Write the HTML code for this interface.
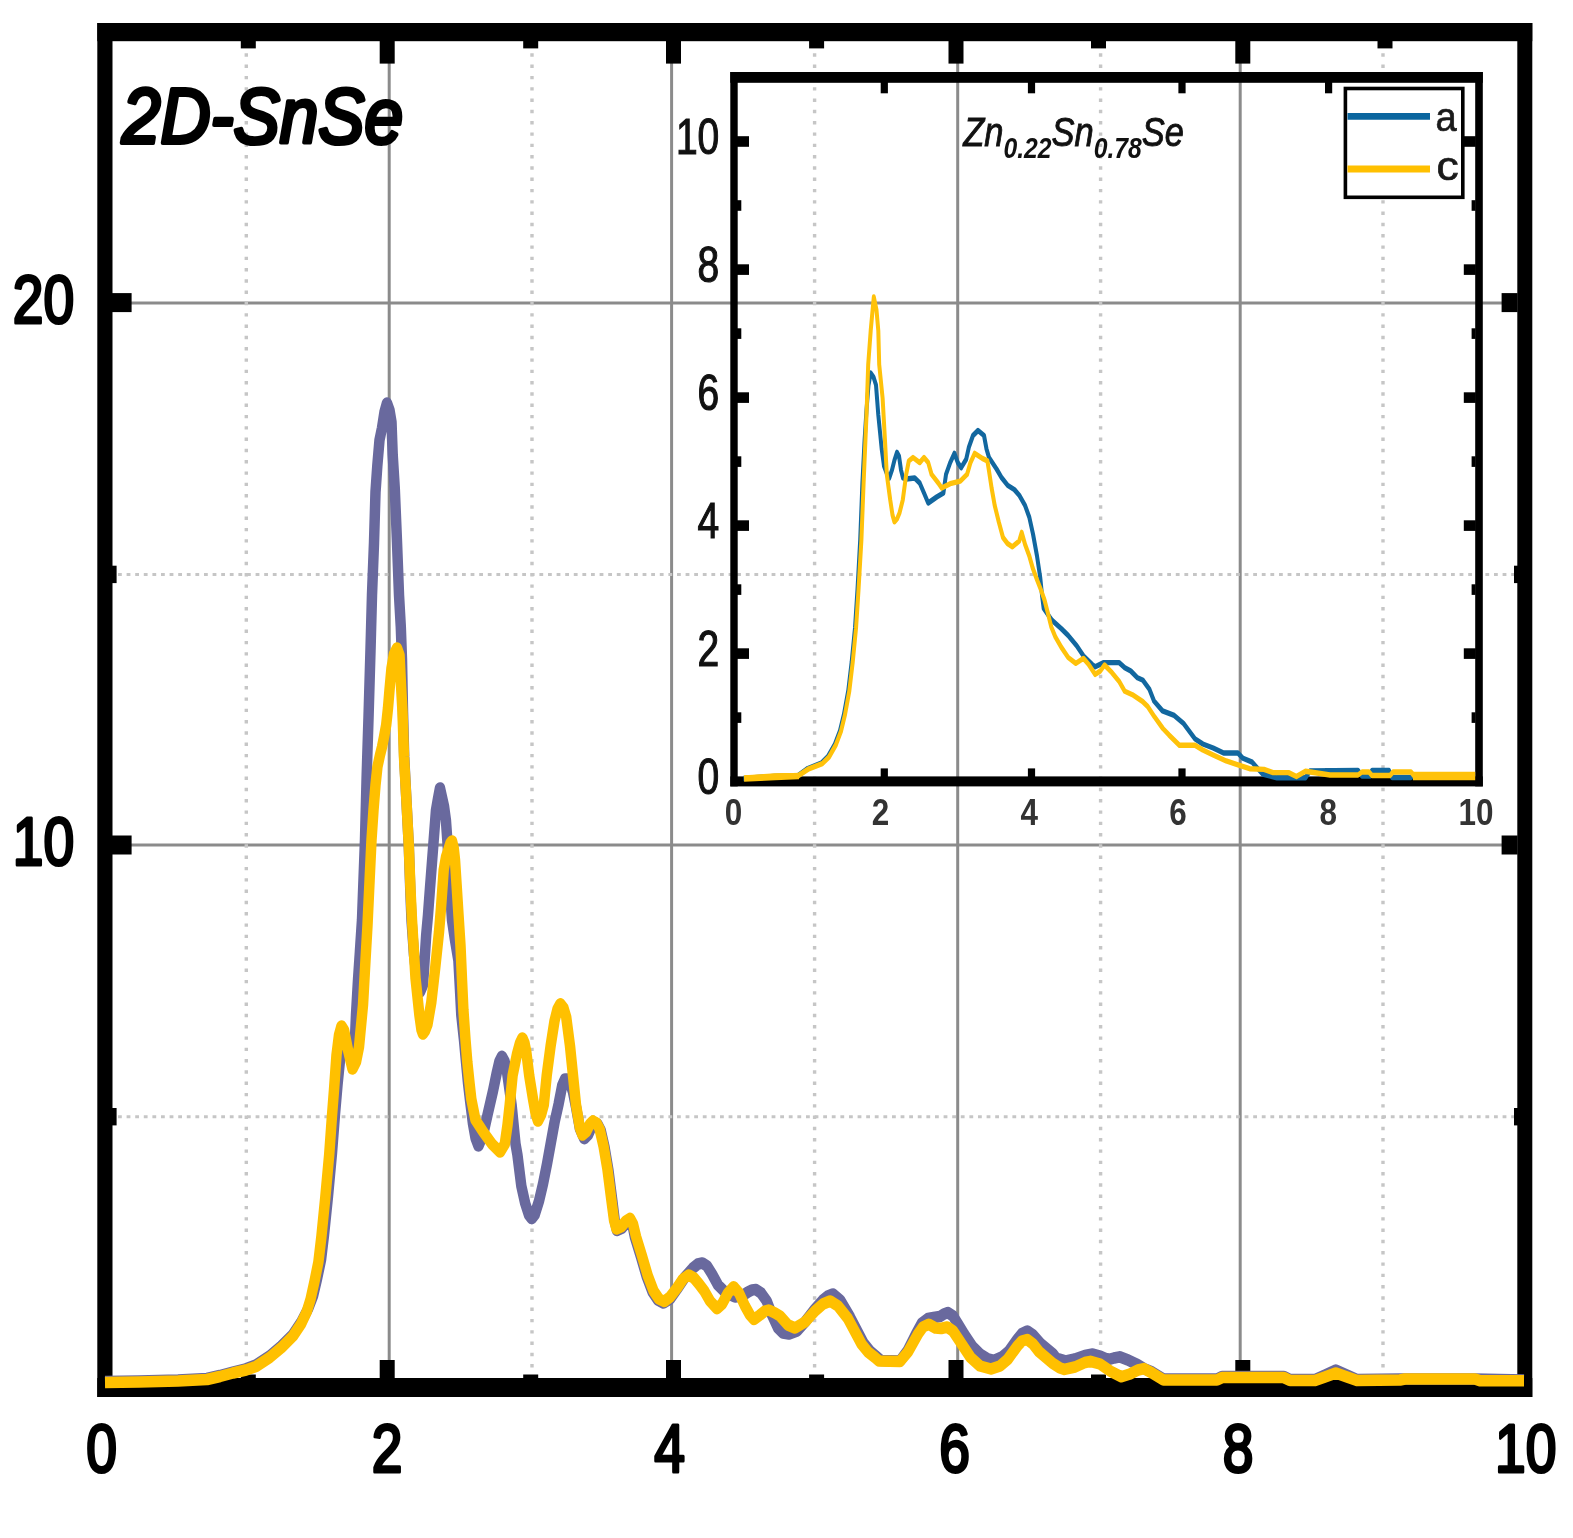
<!DOCTYPE html>
<html lang="en"><head><meta charset="utf-8"><title>2D-SnSe</title>
<style>html,body{margin:0;padding:0;background:#fff}body{width:1573px;height:1538px;overflow:hidden}svg{display:block;filter:blur(0.6px)}text{font-family:"Liberation Sans",sans-serif;fill:#000}.ax{font-size:69px;stroke:#000;stroke-width:3.2px;stroke-linejoin:round}.iy{font-size:50px;fill:#111;stroke:#111;stroke-width:1.2px}.ix{font-weight:bold;font-size:37px;fill:#333}.lg{font-size:41px;fill:#1a1a1a;stroke:#1a1a1a;stroke-width:0.7px}</style></head><body>
<svg width="1573" height="1538" viewBox="0 0 1573 1538">
<rect width="1573" height="1538" fill="#fff"/>
<g stroke="#8b8b8b" stroke-width="3" fill="none">
<line x1="389.2" y1="41" x2="389.2" y2="1378"/>
<line x1="671.6" y1="41" x2="671.6" y2="1378"/>
<line x1="957.7" y1="41" x2="957.7" y2="1378"/>
<line x1="1240.2" y1="41" x2="1240.2" y2="1378"/>
<line x1="112" y1="303" x2="1517" y2="303"/>
<line x1="112" y1="845" x2="1517" y2="845"/>
</g>
<g stroke="#c6c6c6" stroke-width="3.4" fill="none">
<line x1="246.3" y1="42" x2="246.3" y2="1378" stroke-dasharray="3.4 7.9"/>
<line x1="532" y1="42" x2="532" y2="1378" stroke-dasharray="3.4 7.9"/>
<line x1="814.6" y1="42" x2="814.6" y2="1378" stroke-dasharray="3.4 7.9"/>
<line x1="1100.6" y1="42" x2="1100.6" y2="1378" stroke-dasharray="3.4 7.9"/>
<line x1="1383" y1="42" x2="1383" y2="1378" stroke-dasharray="3.4 7.9"/>
<line x1="118" y1="574.4" x2="1517" y2="574.4" stroke-width="3" stroke-dasharray="3.8 4.8"/>
<line x1="118" y1="1116.8" x2="1517" y2="1116.8" stroke-width="3" stroke-dasharray="3.8 4.8"/>
</g>
<g fill="#000">
<rect x="97.3" y="23" width="15.2" height="1374"/>
<rect x="1517.3" y="23" width="15" height="1374"/>
<rect x="97.3" y="23" width="1435" height="18.2"/>
<rect x="97.3" y="1378" width="1435" height="19"/>
<rect x="379.7" y="40" width="15" height="23.6"/>
<rect x="379.7" y="1360" width="15" height="19"/>
<rect x="666.0" y="40" width="15" height="23.6"/>
<rect x="666.0" y="1360" width="15" height="19"/>
<rect x="948.5" y="40" width="15" height="23.6"/>
<rect x="948.5" y="1360" width="15" height="19"/>
<rect x="1235.3" y="40" width="15" height="23.6"/>
<rect x="1235.3" y="1360" width="15" height="19"/>
<rect x="240.8" y="40" width="15" height="8.4"/>
<rect x="240.8" y="1374.5" width="15" height="4"/>
<rect x="523.2" y="40" width="15" height="8.4"/>
<rect x="523.2" y="1374.5" width="15" height="4"/>
<rect x="809.1" y="40" width="15" height="8.4"/>
<rect x="809.1" y="1374.5" width="15" height="4"/>
<rect x="1091.0" y="40" width="15" height="8.4"/>
<rect x="1091.0" y="1374.5" width="15" height="4"/>
<rect x="1377.5" y="40" width="15" height="8.4"/>
<rect x="1377.5" y="1374.5" width="15" height="4"/>
<rect x="112" y="293.1" width="19.6" height="19"/>
<rect x="1501.6" y="293.1" width="16" height="19"/>
<rect x="112" y="835.5" width="19.6" height="19"/>
<rect x="1501.6" y="835.5" width="16" height="19"/>
<rect x="112" y="565.6999999999999" width="4.6" height="17.4"/>
<rect x="1514" y="565.6999999999999" width="4" height="17.4"/>
<rect x="112" y="1108.0" width="4.6" height="17.4"/>
<rect x="1514" y="1108.0" width="4" height="17.4"/>
</g>
<g transform="scale(1,1.1)" fill="none" stroke-linejoin="round" stroke-width="10.5">
<path d="M105.0,1255.91 L139.0,1255.45 L178.0,1254.55 L207.0,1253.18 L220.0,1250.45 L233.0,1247.27 L246.0,1244.36 L256.0,1240.91 L269.7,1232.73 L281.4,1223.64 L293.0,1213.18 L301.0,1202.27 L308.0,1190.00 L313.0,1178.18 L317.0,1162.73 L321.0,1145.45 L324.0,1122.73 L328.0,1087.27 L332.0,1048.18 L335.0,1012.73 L337.5,986.36 L340.0,963.64 L344.0,947.27 L348.0,950.91 L352.0,961.82 L354.5,954.55 L356.0,922.73 L358.0,890.91 L359.9,865.45 L362.0,836.36 L363.5,800.00 L365.0,763.64 L366.7,704.55 L368.5,652.73 L370.5,590.91 L372.0,540.91 L374.0,493.64 L375.5,447.27 L377.3,423.64 L379.5,400.00 L382.0,389.09 L384.5,374.55 L387.0,366.36 L389.5,372.73 L391.5,383.64 L392.7,413.64 L394.8,444.55 L397.0,492.73 L399.0,540.91 L400.8,570.00 L402.0,600.00 L403.0,647.27 L404.2,688.18 L406.5,729.09 L408.8,769.09 L410.3,809.09 L411.5,836.36 L414.0,868.18 L417.0,890.91 L420.0,901.82 L423.0,895.45 L426.2,850.00 L428.0,831.82 L430.0,807.27 L432.0,783.64 L434.0,760.00 L436.0,736.36 L437.9,726.36 L440.0,716.36 L442.0,724.55 L444.0,732.73 L445.9,745.45 L448.0,772.73 L450.0,809.09 L452.0,836.36 L455.0,854.55 L458.4,873.18 L460.0,900.00 L461.3,922.73 L464.0,945.45 L466.2,967.09 L468.0,984.55 L470.0,1000.00 L473.0,1021.82 L475.5,1034.55 L478.5,1041.82 L483.0,1031.82 L487.6,1013.18 L493.0,991.82 L497.0,974.18 L499.5,964.55 L501.9,960.36 L504.5,964.55 L506.7,972.45 L511.6,1004.36 L515.5,1039.82 L517.4,1049.64 L521.3,1078.00 L525.2,1094.00 L529.0,1104.55 L531.7,1107.82 L534.6,1104.55 L539.0,1091.82 L543.0,1076.36 L547.0,1058.18 L550.8,1039.09 L554.7,1019.55 L558.6,1003.64 L562.3,986.36 L565.0,980.91 L567.5,980.91 L570.0,984.55 L573.0,992.73 L576.0,1006.36 L580.0,1026.36 L584.3,1035.09 L588.0,1031.82 L592.0,1023.64 L594.5,1020.45 L597.5,1021.82 L600.6,1027.27 L604.5,1042.73 L608.4,1063.64 L612.3,1091.36 L614.8,1110.00 L617.0,1118.64 L621.5,1116.82 L626.5,1111.36 L630.0,1108.73 L632.5,1113.64 L635.0,1125.00 L641.0,1142.73 L646.7,1160.45 L652.6,1174.55 L658.0,1181.82 L663.5,1184.55 L670.0,1180.91 L677.0,1171.82 L685.0,1160.91 L693.0,1152.73 L698.0,1149.09 L702.4,1148.18 L707.0,1150.91 L712.0,1158.18 L718.0,1168.18 L726.0,1175.45 L735.0,1179.09 L742.0,1178.18 L748.0,1174.55 L752.0,1172.73 L756.0,1172.36 L761.0,1175.45 L766.7,1182.73 L772.0,1195.45 L778.0,1207.27 L783.0,1211.82 L789.0,1212.73 L797.0,1210.00 L805.0,1201.82 L815.0,1190.00 L823.0,1181.82 L828.0,1178.18 L833.0,1176.36 L840.0,1181.82 L850.0,1197.27 L863.4,1220.73 L870.0,1228.18 L877.0,1233.64 L881.0,1236.82 L900.0,1237.27 L908.0,1227.27 L916.0,1212.73 L922.0,1202.73 L928.0,1198.64 L933.6,1197.73 L940.0,1196.82 L944.0,1194.55 L948.0,1193.27 L953.0,1196.36 L958.0,1203.64 L964.0,1212.73 L972.0,1223.64 L980.0,1230.91 L988.0,1235.45 L994.0,1236.73 L1002.0,1233.64 L1009.0,1228.18 L1017.5,1217.27 L1022.0,1212.27 L1027.2,1210.00 L1033.0,1213.64 L1040.0,1220.91 L1052.6,1230.55 L1056.0,1234.55 L1066.0,1237.27 L1075.0,1235.45 L1085.0,1232.27 L1092.8,1230.91 L1100.0,1232.73 L1108.0,1236.09 L1114.0,1234.55 L1119.6,1233.45 L1128.0,1236.36 L1137.5,1240.55 L1144.0,1244.18 L1152.0,1247.27 L1163.5,1253.64 L1217.0,1253.64 L1222.0,1251.45 L1284.0,1251.45 L1290.0,1254.09 L1315.0,1254.09 L1325.0,1250.00 L1335.8,1245.45 L1347.0,1250.00 L1357.0,1254.09 L1400.0,1253.64 L1475.0,1253.64 L1524.0,1254.55" stroke="#69699e"/>
<path d="M105.0,1256.82 L139.0,1256.36 L178.0,1255.45 L207.0,1254.09 L220.0,1251.36 L233.0,1248.18 L246.0,1245.45 L256.0,1242.27 L269.7,1234.09 L281.4,1225.18 L293.0,1214.55 L301.0,1203.64 L306.8,1192.36 L310.6,1180.91 L314.5,1164.91 L318.4,1147.27 L321.4,1124.09 L325.3,1088.64 L329.2,1049.64 L332.0,1014.18 L334.0,990.91 L336.5,959.09 L339.0,940.91 L341.5,932.73 L344.0,936.36 L348.0,954.55 L352.5,971.82 L356.0,965.45 L359.0,951.82 L363.0,913.64 L365.5,872.73 L367.5,840.91 L369.6,800.00 L371.5,763.64 L373.5,736.36 L375.5,713.64 L377.4,697.27 L380.0,686.36 L382.0,679.09 L384.0,670.00 L386.2,659.09 L388.0,643.64 L389.5,627.27 L391.5,607.27 L394.0,594.55 L397.0,589.09 L399.5,595.45 L401.0,622.73 L402.5,647.27 L404.0,688.18 L406.5,729.09 L408.8,769.09 L410.5,809.09 L412.0,836.36 L415.5,889.09 L419.4,922.73 L421.5,936.36 L422.9,940.00 L425.0,937.27 L427.4,931.64 L431.3,911.27 L435.2,880.00 L439.0,847.27 L441.0,825.45 L443.7,790.91 L446.0,779.09 L448.6,771.82 L450.5,766.36 L452.0,764.55 L453.7,770.91 L455.0,781.82 L456.6,804.55 L458.5,831.82 L460.5,860.00 L462.0,890.91 L463.4,918.18 L465.5,945.45 L467.3,965.45 L469.5,984.55 L471.3,999.09 L475.5,1018.18 L483.3,1029.09 L492.0,1040.00 L500.0,1047.27 L504.8,1040.00 L507.5,1022.73 L509.7,1004.55 L512.6,977.73 L517.0,958.18 L520.0,948.18 L522.4,943.64 L524.5,948.18 L526.3,956.36 L529.2,977.73 L533.0,999.09 L535.5,1011.82 L538.0,1019.09 L541.0,1013.64 L543.8,1004.36 L546.7,977.73 L550.6,950.91 L554.5,928.18 L557.5,917.27 L560.4,912.55 L563.5,916.36 L566.2,924.55 L570.0,950.91 L573.0,977.73 L576.0,1004.36 L579.9,1025.45 L582.4,1031.82 L586.0,1029.09 L590.0,1021.82 L593.0,1019.09 L596.5,1020.91 L599.6,1026.36 L603.5,1041.82 L607.4,1062.73 L611.3,1090.45 L614.0,1109.09 L616.5,1117.27 L621.0,1115.45 L626.0,1110.00 L630.0,1107.64 L633.0,1112.73 L636.0,1124.09 L642.0,1141.82 L647.7,1159.55 L653.6,1173.64 L659.0,1180.91 L664.3,1183.18 L670.0,1179.09 L677.0,1170.91 L683.0,1162.73 L688.7,1159.09 L694.0,1161.82 L699.0,1167.27 L704.3,1173.64 L710.0,1182.73 L717.0,1189.73 L722.0,1185.45 L728.0,1175.45 L733.6,1169.73 L739.0,1175.45 L745.0,1187.27 L750.0,1195.45 L754.0,1199.45 L760.0,1195.45 L765.0,1191.82 L768.7,1190.91 L775.0,1193.64 L780.0,1196.36 L788.0,1204.55 L795.0,1207.27 L805.0,1201.82 L815.0,1191.82 L823.0,1185.45 L830.2,1182.73 L838.0,1187.27 L847.8,1198.55 L861.4,1221.64 L868.0,1229.09 L875.0,1234.09 L879.0,1237.27 L900.0,1237.64 L908.2,1228.73 L918.0,1212.73 L923.0,1206.36 L928.7,1203.91 L935.5,1207.27 L941.0,1207.73 L947.2,1206.36 L953.0,1210.00 L959.0,1218.18 L970.6,1234.09 L980.0,1241.82 L991.0,1244.55 L1000.0,1241.82 L1007.7,1235.82 L1017.5,1223.45 L1022.0,1219.09 L1027.2,1217.73 L1033.0,1221.82 L1039.0,1228.73 L1052.6,1239.36 L1060.0,1243.64 L1064.4,1244.91 L1075.0,1242.73 L1085.0,1238.64 L1090.4,1237.55 L1100.0,1240.00 L1110.0,1246.36 L1121.3,1251.64 L1130.0,1249.09 L1138.0,1245.45 L1144.0,1244.18 L1152.0,1248.18 L1163.5,1254.55 L1217.0,1254.55 L1222.0,1252.36 L1284.0,1252.36 L1290.0,1255.00 L1315.0,1255.00 L1325.0,1251.82 L1335.8,1248.18 L1347.0,1251.82 L1357.0,1255.00 L1400.0,1254.55 L1405.0,1253.64 L1475.0,1253.64 L1480.0,1255.27 L1524.0,1255.27" stroke="#ffc000"/>
</g>
<g fill="#000">
<rect x="730.3" y="72" width="7.4" height="714.4"/>
<rect x="1475.2" y="72" width="7.6" height="714.4"/>
<rect x="730.3" y="72" width="752.5" height="10.8"/>
<rect x="730.3" y="776.4" width="752.5" height="10"/>
<rect x="880.6999999999999" y="82" width="7.2" height="11.3"/>
<rect x="880.6999999999999" y="768.4" width="7.2" height="9"/>
<rect x="1027.9" y="82" width="7.2" height="11.3"/>
<rect x="1027.9" y="768.4" width="7.2" height="9"/>
<rect x="1178.4" y="82" width="7.2" height="11.3"/>
<rect x="1178.4" y="768.4" width="7.2" height="9"/>
<rect x="1325.0" y="82" width="7.2" height="11.3"/>
<rect x="1325.0" y="768.4" width="7.2" height="9"/>
<rect x="737" y="136.2" width="12" height="10.6"/>
<rect x="1463.8" y="136.2" width="12" height="10.6"/>
<rect x="737" y="264.3" width="12" height="10.6"/>
<rect x="1463.8" y="264.3" width="12" height="10.6"/>
<rect x="737" y="392.3" width="12" height="10.6"/>
<rect x="1463.8" y="392.3" width="12" height="10.6"/>
<rect x="737" y="520.3000000000001" width="12" height="10.6"/>
<rect x="1463.8" y="520.3000000000001" width="12" height="10.6"/>
<rect x="737" y="648.3000000000001" width="12" height="10.6"/>
<rect x="1463.8" y="648.3000000000001" width="12" height="10.6"/>
<rect x="737" y="200.2" width="4.3" height="10.6"/>
<rect x="1471.6" y="200.2" width="4" height="10.6"/>
<rect x="737" y="328.3" width="4.3" height="10.6"/>
<rect x="1471.6" y="328.3" width="4" height="10.6"/>
<rect x="737" y="456.3" width="4.3" height="10.6"/>
<rect x="1471.6" y="456.3" width="4" height="10.6"/>
<rect x="737" y="584.3000000000001" width="4.3" height="10.6"/>
<rect x="1471.6" y="584.3000000000001" width="4" height="10.6"/>
<rect x="737" y="712.3000000000001" width="4.3" height="10.6"/>
<rect x="1471.6" y="712.3000000000001" width="4" height="10.6"/>
</g>
<g transform="scale(1,1.35)" fill="none" stroke-linejoin="round" stroke-width="4">
<path d="M743.5,576.67 L774.0,575.19 L797.6,574.67 L807.8,569.26 L821.3,565.33 L828.0,560.37 L834.8,551.48 L839.9,541.48 L844.0,529.04 L848.3,511.48 L851.7,490.22 L855.0,465.19 L857.5,436.67 L860.2,400.00 L862.4,357.78 L864.6,325.93 L866.5,303.70 L868.5,285.19 L870.7,276.30 L873.5,279.26 L876.0,285.19 L878.3,307.41 L880.0,320.00 L881.7,332.59 L884.0,345.19 L887.0,351.11 L889.3,354.07 L892.0,348.15 L894.5,340.74 L897.0,335.11 L899.0,337.78 L901.0,348.15 L903.0,354.07 L906.0,354.81 L914.7,354.07 L919.7,357.78 L924.0,365.19 L928.2,372.59 L936.7,368.15 L943.4,365.19 L946.0,351.41 L950.2,342.67 L954.4,335.78 L957.8,342.67 L961.2,346.44 L966.2,340.15 L968.8,331.41 L973.0,322.59 L978.0,318.89 L984.0,322.59 L986.5,332.59 L989.0,338.89 L996.7,347.63 L1001.7,353.93 L1007.7,359.56 L1014.4,362.67 L1019.2,366.81 L1025.0,374.37 L1029.3,383.11 L1033.0,395.56 L1037.0,411.85 L1040.3,428.15 L1042.0,440.74 L1043.7,450.74 L1052.0,459.48 L1061.4,465.78 L1068.2,470.74 L1076.7,478.30 L1083.4,485.78 L1091.9,492.07 L1095.2,493.93 L1103.7,490.81 L1119.0,490.81 L1124.8,494.59 L1130.8,497.04 L1137.5,502.07 L1143.0,503.93 L1149.5,510.67 L1154.0,519.26 L1162.5,526.59 L1174.2,529.93 L1183.3,535.70 L1195.0,547.26 L1202.8,551.11 L1213.2,554.07 L1223.6,557.78 L1238.0,557.78 L1243.0,561.70 L1252.2,564.59 L1262.6,573.33 L1277.0,576.15 L1305.5,576.15 L1310.0,571.11 L1358.0,570.74 L1362.0,574.81 L1370.0,574.81 L1372.0,570.74 L1389.0,570.74 L1392.0,575.93 L1411.0,575.93 L1414.0,574.07 L1475.0,574.07" stroke="#12679f"/>
<path d="M744.5,576.30 L775.0,574.81 L798.6,574.44 L808.8,569.48 L822.3,565.70 L829.0,560.74 L835.8,551.85 L840.9,541.93 L845.0,529.41 L849.3,511.85 L852.7,490.59 L856.0,465.56 L858.5,437.04 L861.4,400.00 L863.6,357.78 L866.5,307.41 L868.2,270.00 L870.7,244.96 L873.8,220.00 L876.5,229.63 L878.3,244.96 L879.2,270.00 L882.6,294.81 L885.0,326.37 L886.8,351.41 L890.2,370.22 L892.5,381.48 L894.4,386.52 L897.0,384.44 L899.5,380.00 L902.8,370.22 L906.2,351.41 L908.8,341.48 L913.0,338.89 L919.7,342.67 L924.0,338.89 L928.2,342.67 L931.6,351.41 L938.3,357.78 L941.7,361.48 L950.2,358.30 L960.3,356.44 L967.0,351.41 L970.5,342.67 L974.7,335.78 L982.3,339.56 L987.4,341.41 L989.0,348.89 L991.6,361.48 L994.7,374.37 L998.9,386.89 L1003.0,398.15 L1007.5,402.59 L1012.4,405.04 L1019.2,400.67 L1021.7,394.37 L1025.0,403.11 L1029.3,411.85 L1032.7,420.74 L1037.0,429.41 L1041.0,437.04 L1044.5,444.44 L1048.0,454.52 L1051.3,464.44 L1055.5,472.00 L1061.4,479.56 L1068.2,487.04 L1075.8,491.41 L1083.4,487.70 L1088.5,492.07 L1095.2,499.56 L1100.3,497.04 L1104.5,492.59 L1112.0,498.30 L1119.0,504.59 L1124.8,512.07 L1132.4,514.59 L1142.6,519.63 L1147.7,523.33 L1154.4,530.89 L1162.9,539.63 L1169.0,544.44 L1179.4,552.07 L1195.0,552.07 L1202.8,555.56 L1213.2,559.26 L1226.2,563.70 L1238.0,566.52 L1249.6,569.41 L1264.0,569.93 L1273.0,572.30 L1288.6,572.30 L1296.4,575.19 L1305.5,571.33 L1330.0,574.07 L1358.0,574.07 L1362.0,571.85 L1369.0,571.85 L1372.0,574.44 L1390.0,574.44 L1393.0,571.85 L1411.0,571.85 L1414.0,574.67 L1475.0,574.67" stroke="#ffc20a"/>
</g>
<path d="M1413,776 L1475.2,776" stroke="#ffc20a" stroke-width="8.4" fill="none"/>
<path d="M744,778.6 L775,777 L799,776" stroke="#ffc20a" stroke-width="6.4" fill="none"/>
<rect x="1345.4" y="88.5" width="117.4" height="108.8" fill="#fff" stroke="#000" stroke-width="3.6"/>
<line x1="1347.5" y1="116.4" x2="1430" y2="116.4" stroke="#0b669f" stroke-width="6.8"/>
<line x1="1347.5" y1="169" x2="1430" y2="169" stroke="#ffc000" stroke-width="7.2"/>
<g id="labels">
<text class="lg" transform="translate(1435.5,131) scale(0.93,1)" text-anchor="start">a</text>
<text class="lg" transform="translate(1436.5,180.3) scale(1.08,1)" text-anchor="start">c</text>
<text class="ax" transform="translate(74.2,322.5) scale(0.8,1)" text-anchor="end">20</text>
<text class="ax" transform="translate(74.2,864.5) scale(0.8,1)" text-anchor="end">10</text>
<text class="ax" transform="translate(101.5,1472) scale(0.8,1)" text-anchor="middle">0</text>
<text class="ax" transform="translate(387.2,1472) scale(0.8,1)" text-anchor="middle">2</text>
<text class="ax" transform="translate(669.5,1472) scale(0.8,1)" text-anchor="middle">4</text>
<text class="ax" transform="translate(954.5,1472) scale(0.8,1)" text-anchor="middle">6</text>
<text class="ax" transform="translate(1238,1472) scale(0.8,1)" text-anchor="middle">8</text>
<text class="ax" transform="translate(1525.8,1472) scale(0.8,1)" text-anchor="middle">10</text>
<text class="iy" transform="translate(719.3,154.3) scale(0.78,1)" text-anchor="end">10</text>
<text class="iy" transform="translate(719.3,282.40000000000003) scale(0.78,1)" text-anchor="end">8</text>
<text class="iy" transform="translate(719.3,410.40000000000003) scale(0.78,1)" text-anchor="end">6</text>
<text class="iy" transform="translate(719.3,538.4) scale(0.78,1)" text-anchor="end">4</text>
<text class="iy" transform="translate(719.3,666.4) scale(0.78,1)" text-anchor="end">2</text>
<text class="iy" transform="translate(719.3,794.4) scale(0.78,1)" text-anchor="end">0</text>
<text class="ix" transform="translate(733.5,825) scale(0.85,1)" text-anchor="middle">0</text>
<text class="ix" transform="translate(880.5,825) scale(0.85,1)" text-anchor="middle">2</text>
<text class="ix" transform="translate(1029.3,825) scale(0.85,1)" text-anchor="middle">4</text>
<text class="ix" transform="translate(1178,825) scale(0.85,1)" text-anchor="middle">6</text>
<text class="ix" transform="translate(1328.3,825) scale(0.85,1)" text-anchor="middle">8</text>
<text class="ix" transform="translate(1476,825) scale(0.85,1)" text-anchor="middle">10</text>
<text transform="translate(122,143) scale(0.888,1)" style="font-style:italic;font-size:78px;stroke:#000;stroke-width:4.2px;stroke-linejoin:round">2D-SnSe</text>
<text transform="translate(963.2,146) scale(0.852,1)" style="font-style:italic;font-size:40.5px;fill:#111;stroke:#111;stroke-width:0.9px">Zn<tspan dy="11.5" style="font-size:29px;font-weight:bold;stroke:none">0.22</tspan><tspan dy="-11.5">Sn</tspan><tspan dy="11.5" style="font-size:29px;font-weight:bold;stroke:none">0.78</tspan><tspan dy="-11.5">Se</tspan></text>
</g>
</svg></body></html>
